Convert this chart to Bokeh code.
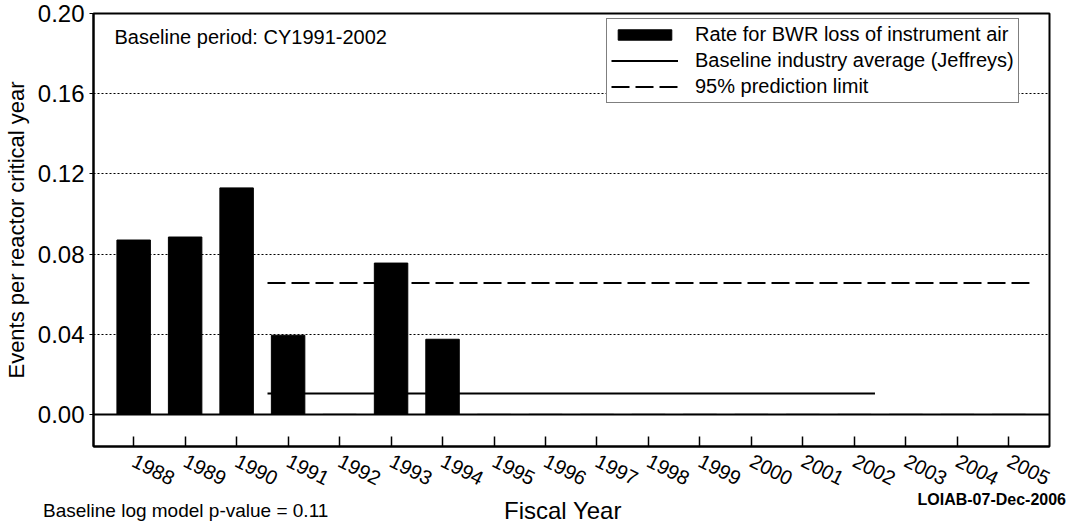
import math
from bokeh.plotting import figure
from bokeh.layouts import column
from bokeh.models import (Range1d, FixedTicker, PrintfTickFormatter, Span, Label,
                          Legend, LegendItem, Div)
from bokeh.embed import file_html
from bokeh.resources import INLINE

# ---------------- data ----------------
years = [1988, 1989, 1990, 1991, 1992, 1993, 1994, 1995, 1996, 1997,
         1998, 1999, 2000, 2001, 2002, 2003, 2004, 2005]
rates = [0.087, 0.0885, 0.113, 0.0395, 0.0, 0.0755, 0.0375, 0.0, 0.0, 0.0,
         0.0, 0.0, 0.0, 0.0, 0.0, 0.0, 0.0, 0.0]
baseline_years = [1991, 2002]
baseline_avg = 0.0105
limit_years = [1991, 2005]
pred_limit = 0.0655
y_ticks = [0.0, 0.04, 0.08, 0.12, 0.16, 0.20]
grid_ticks = [0.04, 0.08, 0.12, 0.16]

FONT = "Liberation Sans"
W = 1066
H1 = 495
H2 = 29

p = figure(width=W, height=H1, output_backend="svg", toolbar_location=None,
           x_range=Range1d(1987.22, 2005.79), y_range=Range1d(-0.016, 0.20),
           min_border_left=91, min_border_right=17, min_border_top=13,
           min_border_bottom=49)

p.background_fill_color = "white"
p.border_fill_color = "white"
p.outline_line_color = "black"
p.outline_line_width = 2

# grid
p.xgrid.visible = False
p.ygrid.ticker = FixedTicker(ticks=grid_ticks)
p.ygrid.grid_line_color = "black"
p.ygrid.grid_line_dash = "2 2"
p.ygrid.grid_line_width = 1.2

# axes
p.xaxis.ticker = FixedTicker(ticks=years)
p.xaxis.major_label_overrides = {y: str(y) for y in years}
p.xaxis.major_label_orientation = -0.47
p.xaxis.major_label_text_font = FONT
p.xaxis.major_label_text_font_size = "20px"
p.xaxis.major_label_text_color = "black"
p.xaxis.major_tick_in = 10
p.xaxis.major_tick_out = 0
p.xaxis.minor_tick_line_color = None
p.xaxis.major_label_standoff = 13
p.xaxis.axis_line_width = 2
p.xaxis.major_tick_line_width = 1.5

p.yaxis.ticker = FixedTicker(ticks=y_ticks)
p.yaxis.formatter = PrintfTickFormatter(format="%.2f")
p.yaxis.major_label_text_font = FONT
p.yaxis.major_label_text_font_size = "24px"
p.yaxis.major_label_text_color = "black"
p.yaxis.major_tick_in = 0
p.yaxis.major_tick_out = 4
p.yaxis.minor_tick_line_color = None
p.yaxis.major_label_standoff = 5
p.yaxis.axis_line_width = 2
p.yaxis.axis_label = "Events per reactor critical year"
p.yaxis.axis_label_text_font = FONT
p.yaxis.axis_label_text_font_size = "22px"
p.yaxis.axis_label_text_font_style = "normal"
p.yaxis.axis_label_text_color = "black"
p.yaxis.axis_label_standoff = 6

# zero line
p.add_layout(Span(location=0, dimension="width", line_color="black", line_width=2))

# glyphs
bars = p.vbar(x=years, top=rates, bottom=0, width=0.65,
              fill_color="black", line_color="black")
base = p.segment(x0=[baseline_years[0] - 0.4], x1=[baseline_years[1] + 0.4],
                 y0=[baseline_avg], y1=[baseline_avg],
                 line_color="black", line_width=2)
lim = p.segment(x0=[limit_years[0] - 0.4], x1=[limit_years[1] + 0.4],
                y0=[pred_limit], y1=[pred_limit],
                line_color="black", line_width=2, line_dash="18 6")

legend = Legend(items=[
    LegendItem(label="Rate for BWR loss of instrument air", renderers=[bars]),
    LegendItem(label="Baseline industry average (Jeffreys)", renderers=[base]),
    LegendItem(label="95% prediction limit", renderers=[lim]),
], location=(513, 343))
legend.label_text_font = FONT
legend.label_text_font_size = "20px"
legend.label_text_color = "black"
legend.label_standoff = 17
legend.label_height = 20
legend.glyph_width = 67
legend.glyph_height = 13
legend.spacing = 3
legend.padding = 4
legend.margin = 0
legend.border_line_color = "black"
legend.border_line_width = 1.5
legend.background_fill_alpha = 1.0
p.add_layout(legend)

p.add_layout(Label(text="Baseline period:  CY1991-2002", x=21, y=410,
                   x_units="screen", y_units="screen", text_font=FONT,
                   text_font_size="20px", text_baseline="middle",
                   text_color="black"))

# footer strip
footer_left = "Baseline log model p-value = 0.11"
footer_center = "Fiscal Year"
footer_right = "LOIAB-07-Dec-2006"

html = (
    f'<div style="position:relative;width:{W}px;height:{H2}px;'
    f"font-family:'{FONT}';color:black;\">"
    f'<span style="position:absolute;left:43px;top:6px;font-size:19px;'
    f'line-height:19px;white-space:nowrap;">{footer_left}</span>'
    f'<span style="position:absolute;left:504px;top:4px;font-size:24px;'
    f'line-height:24px;white-space:nowrap;">{footer_center}</span>'
    f'<span style="position:absolute;right:0px;top:-3px;font-size:16px;'
    f'line-height:16px;font-weight:bold;white-space:nowrap;">{footer_right}</span>'
    '</div>'
)
footer = Div(text=html, width=W, height=H2, margin=(0, 0, 0, 0))

layout = column(p, footer, spacing=0)
open("out.html", "w").write(file_html(layout, INLINE))
